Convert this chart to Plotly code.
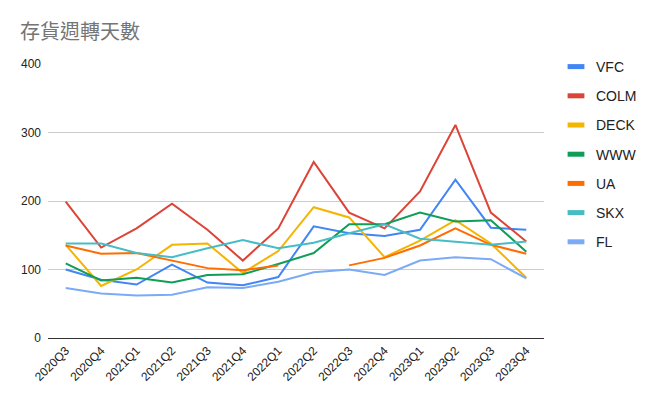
import plotly.graph_objects as go

quarters = ["2020Q3", "2020Q4", "2021Q1", "2021Q2", "2021Q3", "2021Q4", "2022Q1",
            "2022Q2", "2022Q3", "2022Q4", "2023Q1", "2023Q2", "2023Q3", "2023Q4"]

vfc  = [100, 85, 78, 107, 81, 77, 89, 163, 153, 149, 158, 231, 161, 158]
colm = [199, 132, 160, 196, 158, 113, 160, 257, 183, 160, 214, 311, 183, 141]
deck = [136, 76, 100, 136, 138, 95, 127, 191, 176, 118, 142, 172, 138, 88]
www  = [109, 84, 88, 81, 92, 93, 108, 124, 166, 166, 183, 170, 172, 126]
ua   = [135, 123, 124, 113, 102, 99, 106, None, 106, 117, 135, 160, 136, 123]
skx  = [138, 138, 124, 118, 131, 143, 131, 139, 153, 166, 145, 140, 136, 141]
fl   = [73, 65, 62, 63, 74, 73, 82, 96, 100, 92, 113, 118, 115, 87]

series_names = ["VFC", "COLM", "DECK", "WWW", "UA", "SKX", "FL"]
series_vals = [vfc, colm, deck, www, ua, skx, fl]
colors = ["#4285F4", "#DB4437", "#F4B400", "#0F9D58", "#FF6D01", "#46BDC6", "#7BAAF7"]

y_ticks = [0, 100, 200, 300, 400]

W, H = 657, 401

fig = go.Figure()
for name, vals, c in zip(series_names, series_vals, colors):
    fig.add_trace(go.Scatter(x=quarters, y=vals, name=name, mode="lines",
                             line=dict(color=c, width=2), showlegend=False,
                             connectgaps=False))
for name, c in zip(series_names, colors):
    fig.add_trace(go.Scatter(x=[None], y=[None], name=name, mode="markers",
                             legendgroup=name,
                             marker=dict(symbol="line-ew-open", size=12, color=c,
                                         line=dict(width=5, color=c)),
                             hoverinfo="skip"))

fig.update_layout(
    width=W, height=H,
    margin=dict(l=40, r=116, t=56, b=71),
    paper_bgcolor="white", plot_bgcolor="white",
    font=dict(family="Arial, Liberation Sans, sans-serif", color="#222222", size=12),
    title=dict(text="存貨週轉天數", x=12 / W, xanchor="left", y=1 - 24 / H, yanchor="middle",
               font=dict(family="Noto Sans CJK TC", size=20, color="#757575")),
    legend=dict(xref="container", yref="container", x=548 / W, xanchor="left",
                y=1 - 43 / H, yanchor="top", maxheight=330,
                tracegroupgap=8, itemwidth=30,
                font=dict(size=14, color="#222222")),
    showlegend=True,
)
fig.update_xaxes(type="category", range=[-0.5, 13.5], showgrid=False,
                 tickangle=-45, tickfont=dict(size=12, color="#222222"),
                 showline=True, linecolor="#333333", linewidth=1, ticks="")
fig.update_yaxes(range=[0, 400], tickvals=y_ticks, showgrid=True, gridcolor="#cccccc",
                 zeroline=False, tickfont=dict(size=12, color="#222222"), ticks="",
                 ticklabelstandoff=6)

fig.write_html("out.html")
